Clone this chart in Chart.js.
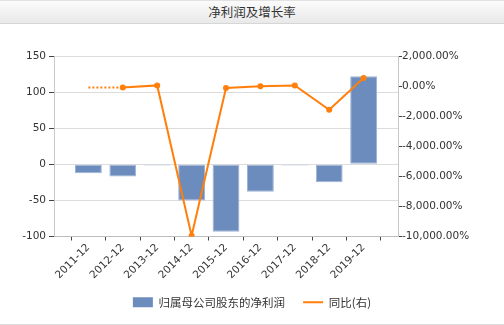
<!DOCTYPE html>
<html>
<head>
<meta charset="utf-8">
<script src="https://cdn.jsdelivr.net/npm/chart.js@4/dist/chart.umd.min.js"></script>
<style>
  html, body { margin: 0; padding: 0; background: #fff; }
  #wrap { position: relative; width: 504px; height: 325px; overflow: hidden; }
  #title {
    position: absolute; left: 0; top: 0; width: 504px; height: 24px;
    background: linear-gradient(#fbfbfb, #e9e9e9);
    border-top: 1px solid #e2e2e2; border-bottom: 1px solid #d6d6d6;
    box-sizing: border-box;
    font: 12.5px "Noto Sans CJK SC", sans-serif; color: #333;
    text-align: center; line-height: 22px;
  }
  #box { position: absolute; left: 0; top: 24px; width: 504px; height: 300px; }
  #bottomLine { position: absolute; left: 0; top: 324px; width: 504px; height: 1px; background: #dcdcdc; }
</style>
</head>
<body>
<div id="wrap">
  <div id="title">净利润及增长率</div>
  <div id="box"><canvas id="chart"></canvas></div>
  <div id="bottomLine"></div>
</div>
<script>
// blank slots at both ends give the padding seen in the original
var categories = ['', '2011-12', '2012-12', '2013-12', '2014-12', '2015-12', '2016-12', '2017-12', '2018-12', '2019-12', ''];
var netProfit = [null, -12.5, -16.8, -1.5, -50, -93.5, -38, -1.5, -24.7, 122];
var yoyGrowth = [null, -90, -90, 45, -9950, -130, -10, 40, -1570, 540];
netProfit.push(null);
yoyGrowth.push(null);

var leftTicks = { min: -100, max: 150, step: 50 };
var rightTicks = { min: -10000, max: 2000, step: 2000 };

var BAR_COLOR = '#6b8cbc';
var LINE_COLOR = '#ff7f0a';
var TICK_FONT = { family: 'DejaVu Sans', size: 10.5 };

function pct(v) {
  return v.toLocaleString('en-US', { minimumFractionDigits: 2, maximumFractionDigits: 2 }) + '%';
}

new Chart(document.getElementById('chart'), {
  type: 'bar',
  data: {
    labels: categories,
    datasets: [{
      type: 'bar',
      label: '归属母公司股东的净利润',
      data: netProfit,
      yAxisID: 'y',
      backgroundColor: BAR_COLOR,
      borderColor: '#9fb4d6',
      borderWidth: 1,
      borderSkipped: false,
      categoryPercentage: 1,
      barPercentage: 0.78,
      order: 2
    }, {
      type: 'line',
      label: '同比(右)',
      data: yoyGrowth,
      yAxisID: 'y1',
      borderColor: LINE_COLOR,
      backgroundColor: LINE_COLOR,
      borderWidth: 2,
      pointRadius: function(ctx) { return ctx.dataIndex === 1 ? 0 : 3; },
      pointBackgroundColor: LINE_COLOR,
      pointBorderWidth: 0,
      tension: 0,
      segment: {
        borderDash: function(ctx) { return ctx.p0DataIndex === 1 ? [2, 2] : undefined; }
      },
      order: 1
    }]
  },
  options: {
    responsive: true,
    maintainAspectRatio: false,
    animation: false,
    layout: { padding: { top: 32, bottom: 6, left: 0, right: 0 } },
    plugins: {
      tooltip: { enabled: false },
      legend: {
        position: 'bottom',
        labels: {
          color: '#333',
          font: { family: 'Noto Sans CJK SC', size: 11.5 },
          usePointStyle: true,
          pointStyleWidth: 20,
          boxHeight: 10,
          padding: 18,
          sort: function(a, b) { return a.datasetIndex - b.datasetIndex; },
          generateLabels: function(chart) {
            var items = Chart.defaults.plugins.legend.labels.generateLabels(chart);
            items.forEach(function(it) {
              if (it.datasetIndex === 0) { it.pointStyle = 'rect'; it.lineWidth = 0; it.strokeStyle = BAR_COLOR; }
              else { it.pointStyle = 'line'; it.lineWidth = 2; it.strokeStyle = LINE_COLOR; }
            });
            return items;
          }
        }
      }
    },
    scales: {
      x: {
        offset: false,
        grid: { drawOnChartArea: false, tickColor: '#444', tickLength: 4 },
        border: { color: '#bdbdbd' },
        ticks: { color: '#333', font: TICK_FONT, autoSkip: false, maxRotation: 45, minRotation: 45, padding: 1 },
        afterFit: function(s) { s.height = 42; }
      },
      y: {
        position: 'left',
        min: leftTicks.min, max: leftTicks.max,
        grid: { color: '#dcdcdc', tickColor: '#444', tickLength: 5 },
        border: { color: '#c8c8c8' },
        ticks: { stepSize: leftTicks.step, color: '#333', font: TICK_FONT, padding: 3 },
        afterFit: function(s) { s.width = 54; }
      },
      y1: {
        position: 'right',
        min: rightTicks.min, max: rightTicks.max,
        grid: { drawOnChartArea: false, tickColor: '#444', tickLength: 4 },
        border: { color: '#c8c8c8' },
        ticks: { stepSize: rightTicks.step, color: '#333', font: TICK_FONT, padding: 0, callback: function(v) { return pct(v); } },
        afterFit: function(s) { s.width = 106; }
      }
    }
  }
});
</script>
</body>
</html>
